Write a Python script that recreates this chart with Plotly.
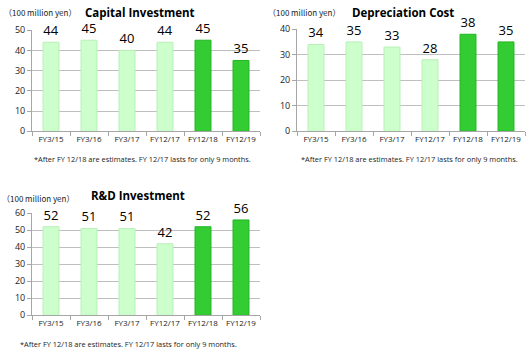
import plotly.graph_objects as go

categories = ["FY3/15", "FY3/16", "FY3/17", "FY12/17", "FY12/18", "FY12/19"]
capital = [44, 45, 40, 44, 45, 35]
depreciation = [34, 35, 33, 28, 38, 35]
rnd = [52, 51, 51, 42, 52, 56]
titles = ["Capital Investment", "Depreciation Cost", "R&D Investment"]
unit = "（100 million yen）"
note = "*After FY 12/18 are estimates. FY 12/17 lasts for only 9 months."

LIGHT = "#CCFFCC"
DARK = "#33CC33"
colors = [LIGHT] * 4 + [DARK] * 2
lines = ["#B8F0B8"] * 4 + ["#22B522"] * 2

W, H = 530, 354
def px(x):
    return x / W
def py(y):
    return 1 - y / H

panels = [
    dict(vals=capital, title=titles[0], x0=32, x1=260, ytop=24, ybot=129, ymax=50,
         tx=140, ty=6, ux=2, uy=6, nx=32, ny=158),
    dict(vals=depreciation, title=titles[1], x0=297, x1=525, ytop=23, ybot=129, ymax=40,
         tx=403, ty=6, ux=266, uy=6, nx=299, ny=158),
    dict(vals=rnd, title=titles[2], x0=32, x1=260, ytop=214, ybot=320, ymax=60,
         tx=138, ty=196, ux=0, uy=199, nx=18, ny=350),
]

fig = go.Figure()
font_main = "Open Sans, Liberation Sans, sans-serif"
annotations = []
for i, p in enumerate(panels, start=1):
    xa = "x" if i == 1 else f"x{i}"
    ya = "y" if i == 1 else f"y{i}"
    fig.add_trace(go.Bar(
        x=categories, y=p["vals"], xaxis=xa, yaxis=ya,
        marker=dict(color=colors, line=dict(color=lines, width=1)),
        text=[str(v) for v in p["vals"]], textposition="outside",
        textfont=dict(size=13, color="#000000", family=font_main),
        cliponaxis=False, showlegend=False, hoverinfo="skip",
    ))
    xkey = "xaxis" if i == 1 else f"xaxis{i}"
    ykey = "yaxis" if i == 1 else f"yaxis{i}"
    fig.update_layout({
        xkey: dict(domain=[px(p["x0"]), px(p["x1"])], anchor=ya,
                   showline=True, linecolor="#A6A6A6", linewidth=1,
                   ticks="outside", tickson="boundaries", ticklen=4, tickcolor="#A6A6A6",
                   tickangle=0,
                   tickfont=dict(size=8, color="#222222", family=font_main),
                   showgrid=False, fixedrange=True),
        ykey: dict(domain=[py(p["ybot"]), py(p["ytop"])], anchor=xa,
                   range=[0, p["ymax"]], dtick=10,
                   showline=True, linecolor="#A6A6A6", linewidth=1,
                   ticks="outside", ticklen=4, tickcolor="#A6A6A6",
                   showgrid=True, gridcolor="#BFBFBF", gridwidth=1,
                   zeroline=False,
                   tickfont=dict(size=9, color="#222222", family=font_main),
                   fixedrange=True),
    })
    annotations.append(dict(text=f"<b>{p['title']}</b>", x=px(p["tx"]), y=py(p["ty"]),
                            xref="paper", yref="paper", xanchor="center", yanchor="middle",
                            showarrow=False, font=dict(size=11.5, color="#000000", family=font_main)))
    annotations.append(dict(text=unit, x=px(p["ux"]), y=py(p["uy"]),
                            xref="paper", yref="paper", xanchor="left", yanchor="middle",
                            showarrow=False, font=dict(size=8, color="#222222",
                                                       family="Noto Sans CJK JP, sans-serif")))
    annotations.append(dict(text=note, x=px(p["nx"]), y=py(p["ny"]),
                            xref="paper", yref="paper", xanchor="left", yanchor="middle",
                            showarrow=False, font=dict(size=7.4, color="#222222", family=font_main)))

fig.update_layout(
    width=W, height=H, margin=dict(l=0, r=0, t=0, b=0),
    paper_bgcolor="white", plot_bgcolor="white",
    bargap=0.58, annotations=annotations,
)
fig.write_html("out.html")
